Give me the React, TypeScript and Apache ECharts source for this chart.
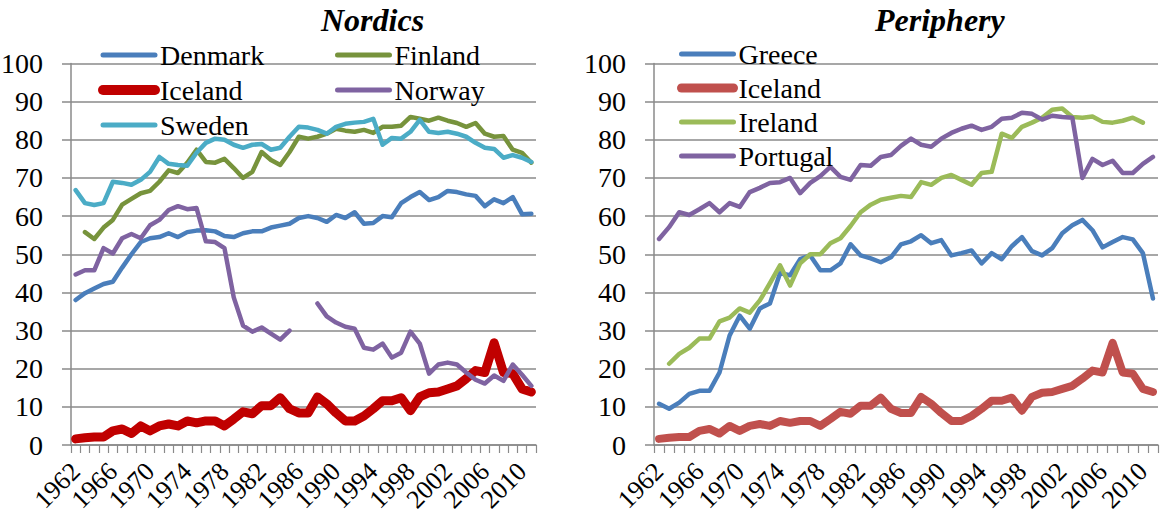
import React, { useEffect, useRef } from "react";
import * as echarts from "echarts";

const years: string[] = [];
for (let y = 1962; y <= 2011; y++) years.push(String(y));

const yTicks = [0, 10, 20, 30, 40, 50, 60, 70, 80, 90, 100];

const denmark = [38, 39.8, 41, 42.2, 42.8, 46.5, 50, 53.2, 54.2, 54.5, 55.5, 54.5, 55.8, 56.2, 56.3, 56, 54.8, 54.5, 55.5, 56, 56, 57, 57.5, 58, 59.5, 60, 59.5, 58.5, 60.3, 59.5, 61, 58, 58.2, 60, 59.7, 63.4, 65, 66.3, 64.2, 65, 66.6, 66.3, 65.7, 65.3, 62.6, 64.4, 63.4, 65, 60.5, 60.6];
const finland = [null, 55.8, 54, 57, 59, 63, 64.5, 66, 66.6, 69, 72, 71.3, 74, 77.4, 74.2, 74, 75, 72.6, 70, 71.6, 76.8, 74.7, 73.4, 76.8, 80.8, 80.3, 80.8, 81.6, 82.9, 82.4, 82.1, 82.6, 81.8, 83.4, 83.4, 83.7, 86, 85.5, 85, 85.8, 85, 84.4, 83.4, 84.4, 81.6, 80.8, 81, 77.4, 76.6, 74];
const iceland = [1.6, 1.9, 2.1, 2.1, 3.7, 4.2, 3, 5, 3.7, 5, 5.5, 5, 6.3, 5.8, 6.3, 6.3, 5, 6.8, 8.7, 8.2, 10.3, 10.3, 12.4, 9.5, 8.4, 8.4, 12.6, 10.8, 8.4, 6.3, 6.3, 7.6, 9.5, 11.6, 11.6, 12.4, 9, 12.6, 13.7, 13.9, 14.7, 15.5, 17.4, 19.5, 19, 26.8, 19, 18.7, 14.7, 13.9];
const norway = [44.7, 45.8, 45.8, 51.6, 50.2, 54.2, 55.3, 54.2, 57.6, 59, 61.6, 62.6, 61.8, 62.1, 53.4, 53.2, 51.6, 38.7, 31.3, 29.7, 30.8, 29.2, 27.6, 30, null, null, 37.1, 33.7, 32.1, 31, 30.5, 25.5, 25, 26.6, 22.9, 24.2, 29.7, 26.6, 18.7, 21.1, 21.6, 21.1, 19, 17.1, 16.1, 18.2, 16.8, 21.1, 18.4, 15.5];
const sweden = [66.8, 63.4, 62.9, 63.4, 69, 68.7, 68.2, 69.5, 71.6, 75.5, 73.7, 73.4, 73.2, 76.6, 79.2, 80.3, 80, 78.7, 77.9, 78.7, 78.9, 77.4, 77.9, 80.8, 83.4, 83.2, 82.6, 81.6, 83.4, 84.2, 84.5, 84.7, 85.5, 78.7, 80.5, 80.3, 82.1, 85.2, 82.1, 81.8, 82.1, 81.6, 80.8, 79.2, 77.9, 77.6, 75.3, 76, 75.3, 74.2];

const greece = [10.8, 9.5, 11.1, 13.4, 14.2, 14.2, 19, 28.7, 33.9, 30.5, 35.8, 37.1, 45, 44.5, 48.7, 49.7, 45.8, 45.8, 47.6, 52.6, 49.7, 48.9, 47.9, 49.2, 52.6, 53.4, 55, 52.9, 53.7, 49.7, 50.3, 51, 47.6, 50.3, 48.7, 52.1, 54.5, 50.8, 49.7, 51.6, 55.5, 57.6, 59, 56.3, 51.8, 53.2, 54.5, 53.9, 50.3, 38.4];
const ireland = [null, 21.3, 23.9, 25.5, 27.9, 27.9, 32.4, 33.4, 35.8, 34.7, 37.9, 42.4, 47.1, 41.8, 47.6, 50, 50, 52.9, 54.2, 57.4, 61, 63, 64.3, 64.8, 65.3, 65, 68.9, 68.2, 70, 70.8, 69.5, 68.2, 71.3, 71.6, 81.6, 80.5, 83.4, 84.5, 85.8, 87.9, 88.2, 86, 85.8, 86.1, 84.7, 84.5, 85, 85.8, 84.5, null];
const portugal = [54, 57.1, 61, 60.3, 61.8, 63.4, 61, 63.4, 62.4, 66.3, 67.4, 68.7, 68.9, 70, 66, 68.7, 70.5, 72.9, 70.3, 69.5, 73.4, 73.2, 75.5, 76, 78.4, 80.3, 78.7, 78.2, 80.3, 81.8, 82.9, 83.7, 82.6, 83.4, 85.5, 85.8, 87.1, 86.8, 85.3, 86.3, 86, 85.8, 70, 75, 73.4, 74.5, 71.3, 71.3, 73.7, 75.5];

const FONT = '"Liberation Serif", "Times New Roman", serif';
const GRID_COLOR = "#8a8a8a";
const legendNames: Record<string, string> = { IcelandP: "Iceland" };
const legendWidths: Record<string, number> = { Iceland: 10, IcelandP: 9 };

function xAxisCfg(gridIndex: number) {
  return {
    type: "category",
    gridIndex,
    data: years,
    boundaryGap: true,
    axisLine: { show: true, lineStyle: { color: GRID_COLOR, width: 1.5 } },
    axisTick: { show: true, interval: 0, length: 8, lineStyle: { color: GRID_COLOR, width: 1.2 } },
    axisLabel: {
      interval: (i: number) => i % 4 === 0,
      showMinLabel: true,
      showMaxLabel: true,
      hideOverlap: false,
      rotate: 45,
      margin: 22,
      verticalAlign: "middle",
      lineHeight: 20,
      color: "#000",
      fontFamily: FONT,
      fontSize: 26,
    },
    splitLine: { show: false },
  };
}

function yAxisCfg(gridIndex: number) {
  return {
    type: "value",
    gridIndex,
    min: yTicks[0],
    max: yTicks[yTicks.length - 1],
    interval: 10,
    axisLine: { show: true, lineStyle: { color: GRID_COLOR, width: 1.5 } },
    axisTick: { show: true, length: 9, lineStyle: { color: GRID_COLOR, width: 1.5 } },
    axisLabel: { color: "#000", fontFamily: FONT, fontSize: 28, margin: 28 },
    splitLine: { show: true, lineStyle: { color: GRID_COLOR, width: 1.5 } },
  };
}

function lineSeries(name: string, data: (number | null)[], color: string, width: number, axis: number) {
  return {
    name,
    type: "line",
    data,
    xAxisIndex: axis,
    yAxisIndex: axis,
    symbol: "none",
    connectNulls: false,
    lineStyle: { color, width, cap: "round", join: "round" },
    itemStyle: { color },
    emphasis: { disabled: true },
  };
}

function legendCfg(left: number, top: number, gap: number, names: string[]) {
  return {
    orient: "vertical",
    left,
    top,
    padding: 0,
    itemGap: gap,
    itemWidth: 52,
    itemHeight: 14,
    data: names.map((n) => ({
      name: n,
      lineStyle: { width: legendWidths[n] || 5, cap: "round" },
    })),
    selectedMode: false,
    itemStyle: { opacity: 0 },
    formatter: (n: string) => legendNames[n] || n,
    textStyle: { color: "#000", fontFamily: FONT, fontSize: 28 },
  };
}

export default function App() {
  const ref = useRef<HTMLDivElement>(null);
  useEffect(() => {
    if (!ref.current) return;
    const chart = echarts.init(ref.current, null, { renderer: "svg" });
    chart.setOption({
      animation: false,
      backgroundColor: "#fff",
      title: [
        {
          text: "Nordics",
          left: 316,
          top: -1,
          textStyle: { fontFamily: FONT, fontSize: 32, fontWeight: "bold", fontStyle: "italic", color: "#000" },
        },
        {
          text: "Periphery",
          left: 870,
          top: -1,
          textStyle: { fontFamily: FONT, fontSize: 32, fontWeight: "bold", fontStyle: "italic", color: "#000" },
        },
      ],
      legend: [
        legendCfg(98, 41, 7, ["Denmark", "Iceland", "Sweden"]),
        legendCfg(335, 41, 7, ["Finland", "Norway"]),
        legendCfg(677, 40, 6, ["Greece", "IcelandP", "Ireland", "Portugal"]),
      ],
      grid: [
        { left: 71, right: 624, top: 63.5, bottom: 77, containLabel: false, outerBoundsMode: "none" },
        { left: 654, right: 2, top: 63.5, bottom: 77, containLabel: false, outerBoundsMode: "none" },
      ],
      xAxis: [xAxisCfg(0), xAxisCfg(1)],
      yAxis: [yAxisCfg(0), yAxisCfg(1)],
      series: [
        lineSeries("Denmark", denmark, "#4a7ebb", 4.5, 0),
        lineSeries("Finland", finland, "#77933c", 4.5, 0),
        lineSeries("Iceland", iceland, "#c00000", 9, 0),
        lineSeries("Norway", norway, "#7f63a1", 4.5, 0),
        lineSeries("Sweden", sweden, "#4bacc6", 4.5, 0),
        lineSeries("Greece", greece, "#4a7ebb", 4.5, 1),
        lineSeries("IcelandP", iceland, "#c0504d", 8, 1),
        lineSeries("Ireland", ireland, "#9bbb59", 4.5, 1),
        lineSeries("Portugal", portugal, "#7f63a1", 4.5, 1),
      ],
    });
    return () => chart.dispose();
  }, []);
  return (
    <div
      ref={ref}
      style={{ position: "absolute", left: 0, top: 0, width: 1160, height: 522, background: "#fff" }}
    />
  );
}
